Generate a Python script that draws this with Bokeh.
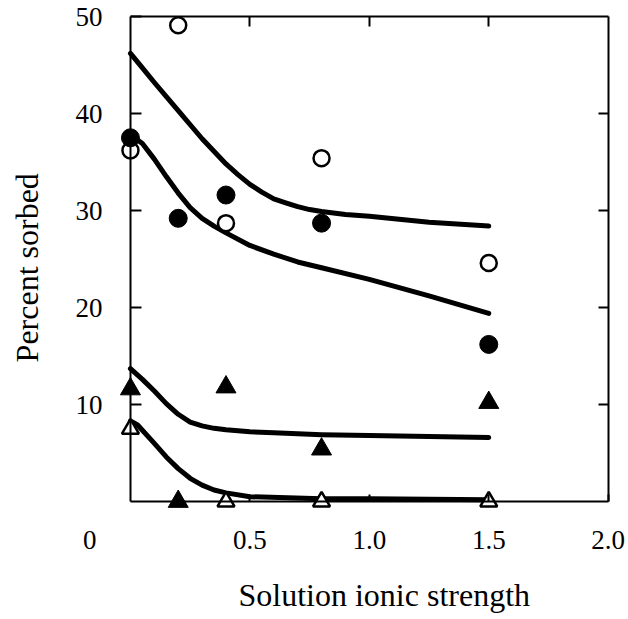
import math
from bokeh.plotting import figure
from bokeh.models import LinearAxis, FixedTicker, Label, Range1d, Title
from bokeh.embed import file_html
from bokeh.resources import INLINE

# ---- data ----
ionic = [0.0, 0.2, 0.4, 0.8, 1.5]
open_circle = [36.2, 49.1, 28.7, 35.4, 24.6]
filled_circle = [37.5, 29.2, 31.6, 28.7, 16.2]
filled_triangle = [11.6, 0.0, 11.8, 5.4, 10.2]
open_tri_x = [0.0, 0.4, 0.8, 1.5]
open_triangle = [7.5, 0.0, 0.0, 0.0]

curve1_x = [0.0, 0.05, 0.1, 0.2, 0.3, 0.4, 0.45, 0.5, 0.55, 0.6, 0.65, 0.7, 0.75, 0.8, 0.9, 1.0, 1.25, 1.5]
curve1_y = [46.2, 44.7, 43.2, 40.3, 37.4, 34.8, 33.7, 32.7, 31.9, 31.2, 30.8, 30.4, 30.1, 29.9, 29.6, 29.4, 28.8, 28.4]
curve2_x = [0.0, 0.05, 0.1, 0.15, 0.2, 0.25, 0.3, 0.35, 0.4, 0.5, 0.6, 0.7, 0.8, 1.0, 1.25, 1.5]
curve2_y = [37.8, 36.9, 35.3, 33.5, 31.8, 30.3, 29.2, 28.4, 27.7, 26.4, 25.5, 24.7, 24.1, 22.9, 21.2, 19.4]
curve3_x = [0.0, 0.05, 0.1, 0.15, 0.2, 0.25, 0.3, 0.35, 0.4, 0.5, 0.6, 0.8, 1.0, 1.25, 1.5]
curve3_y = [13.7, 12.6, 11.4, 10.1, 9.0, 8.2, 7.8, 7.55, 7.4, 7.2, 7.1, 6.9, 6.8, 6.7, 6.6]
curve4_x = [0.0, 0.03, 0.1, 0.15, 0.2, 0.25, 0.3, 0.35, 0.4, 0.5, 0.8, 1.0, 1.5]
curve4_y = [8.3, 7.9, 6.0, 4.6, 3.4, 2.4, 1.7, 1.2, 0.9, 0.5, 0.3, 0.3, 0.2]

x_ticks = [0.5, 1.0, 1.5, 2.0]
x_tick_labels = ["0.5", "1.0", "1.5", "2.0"]
origin_label = "0"
y_ticks = [10, 20, 30, 40, 50]
x_title = "Solution ionic strength"
y_title = "Percent sorbed"

X_MIN, X_MAX = 0.0, 2.0
Y_MIN, Y_MAX = 0.0, 50.0

FONT = "Liberation Serif"

p = figure(width=628, height=619,
           x_range=Range1d(-0.544, 2.085), y_range=Range1d(-7.0, 51.65),
           output_backend="svg", toolbar_location=None,
           x_axis_location=None, y_axis_location=None,
           min_border_left=0, min_border_right=0,
           min_border_top=0, min_border_bottom=50)
p.outline_line_color = None
p.background_fill_color = "white"
p.border_fill_color = "white"
p.grid.grid_line_color = None


def style(ax):
    ax.axis_line_color = "black"
    ax.axis_line_width = 2
    ax.major_tick_line_color = "black"
    ax.major_tick_line_width = 2
    ax.major_tick_out = 0
    ax.minor_tick_line_color = None
    ax.major_label_text_font = FONT
    ax.major_label_text_font_size = "27px"
    ax.major_label_text_color = "black"


# visible box and inward ticks (fixed at data locations, take no panel space)
left = LinearAxis(fixed_location=X_MIN, bounds=(Y_MIN, Y_MAX),
                  ticker=FixedTicker(ticks=y_ticks))
style(left)
left.major_tick_in = 11
left.major_label_standoff = 28
p.add_layout(left, "left")

bottom = LinearAxis(fixed_location=Y_MIN, bounds=(X_MIN, X_MAX),
                    ticker=FixedTicker(ticks=x_ticks))
style(bottom)
bottom.major_tick_in = 7
bottom.major_label_standoff = 29
bottom.major_label_overrides = {t: s for t, s in zip(x_ticks, x_tick_labels)}
p.add_layout(bottom, "below")

top = LinearAxis(fixed_location=Y_MAX, bounds=(X_MIN, X_MAX),
                 ticker=FixedTicker(ticks=[0.5, 1.0, 1.5]))
style(top)
top.major_tick_in = 10
top.major_label_text_color = None
p.add_layout(top, "above")

right = LinearAxis(fixed_location=X_MAX, bounds=(Y_MIN, Y_MAX),
                   ticker=FixedTicker(ticks=[10, 20, 30, 40]))
style(right)
right.major_tick_in = 10
right.major_label_text_color = None
p.add_layout(right, "right")

# axis titles
p.add_layout(Title(text=x_title, align="left", offset=238,
                   vertical_align="middle", standoff=12,
                   text_font=FONT, text_font_size="32px",
                   text_font_style="normal", text_color="black"), "below")
p.add_layout(Label(x=-0.435, y=24.1, text=y_title, angle=math.pi / 2,
                   text_align="center", text_baseline="middle",
                   text_font=FONT, text_font_size="32px", text_color="black"))

p.add_layout(Label(x=-0.17, y=Y_MIN, y_offset=-29, text=origin_label,
                   text_align="center", text_baseline="top",
                   text_font=FONT, text_font_size="27px", text_color="black"))

for cx, cy in [(curve1_x, curve1_y), (curve2_x, curve2_y),
               (curve3_x, curve3_y), (curve4_x, curve4_y)]:
    p.line(cx, cy, line_width=5, line_color="black",
           line_cap="round", line_join="round")

p.scatter(ionic, open_circle, marker="circle", size=16,
          fill_color="white", line_color="black", line_width=2.5)
p.scatter(ionic, filled_circle, marker="circle", size=18,
          fill_color="black", line_color="black")
p.scatter(ionic, filled_triangle, marker="triangle", size=20,
          fill_color="black", line_color="black")
p.scatter(open_tri_x, open_triangle, marker="triangle", size=17,
          fill_color="white", line_color="black", line_width=2.5)

open("out.html", "w").write(file_html(p, INLINE))
